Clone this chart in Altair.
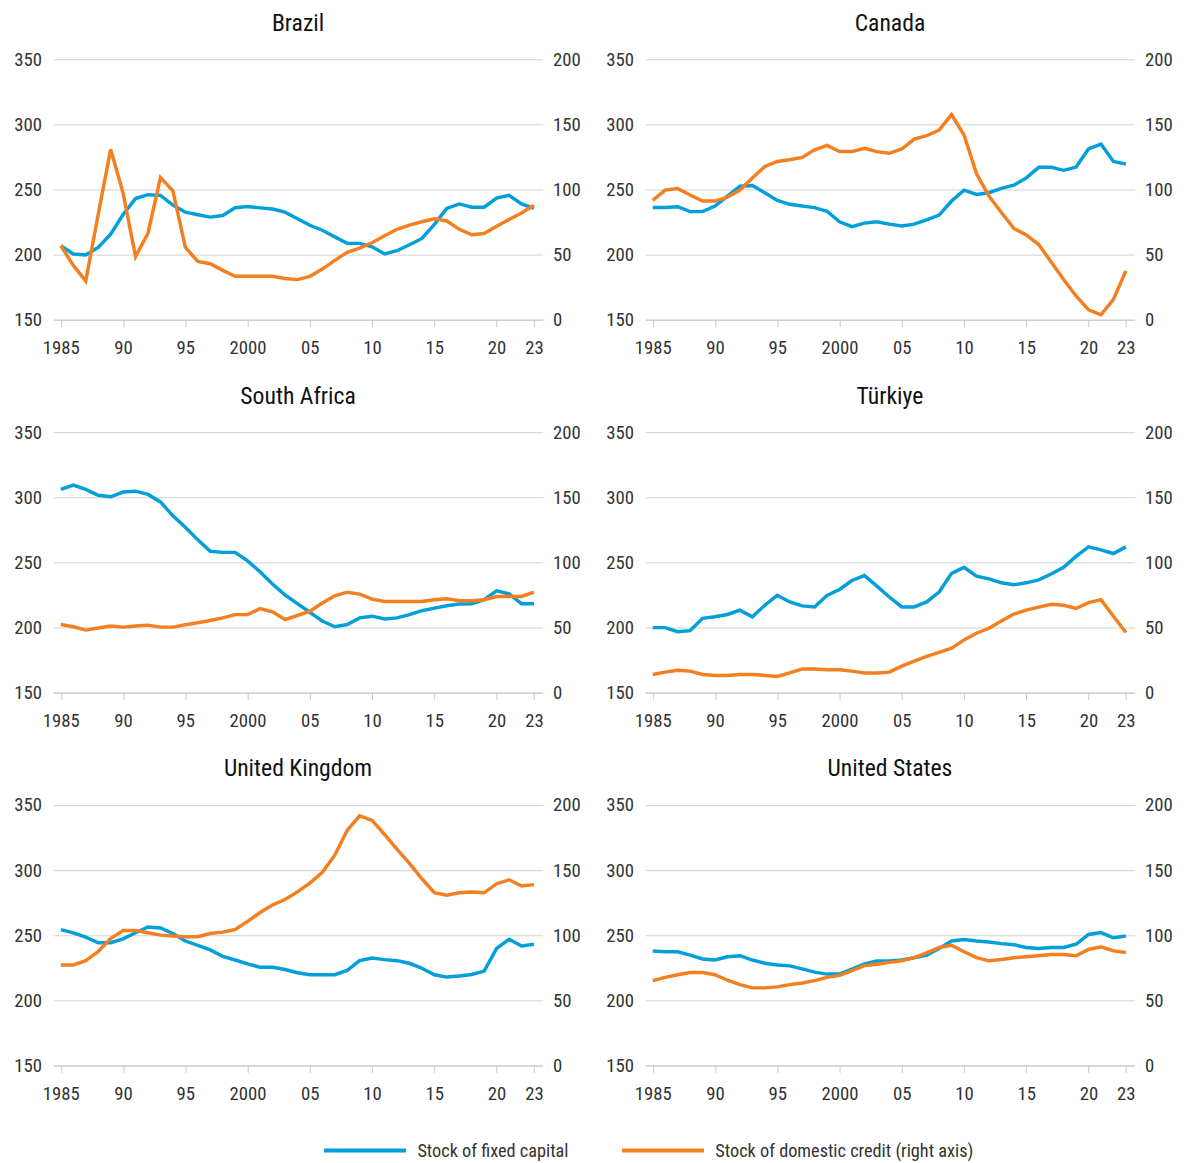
import altair as alt
import pandas as pd

years = list(range(1985, 2024))

LAB_CAP = "Stock of fixed capital"
LAB_CRED = "Stock of domestic credit (right axis)"

countries = ["Brazil", "Canada", "South Africa", "Türkiye", "United Kingdom", "United States"]

# Stock of fixed capital (left axis)
brazil_capital = [206.8, 200.5, 199.7, 205.5, 215.7, 230.8, 243.0, 246.0, 245.5, 238.0,
                  232.6, 230.6, 228.8, 230.0, 236.0, 236.9, 235.9, 235.0, 232.6, 227.5,
                  222.5, 218.7, 213.6, 208.6, 208.6, 206.0, 200.5, 203.0, 207.6, 212.4,
                  223.2, 235.4, 238.9, 236.4, 236.4, 243.4, 245.5, 238.9, 235.4]
canada_capital = [236.1, 236.1, 236.8, 233.0, 233.0, 237.3, 244.9, 252.5, 253.0, 247.5,
                  241.6, 238.6, 237.3, 236.1, 233.3, 225.2, 221.4, 224.2, 225.2, 223.4,
                  221.9, 223.4, 226.7, 230.3, 241.1, 249.5, 246.2, 247.5, 250.8, 253.3,
                  258.9, 267.0, 267.0, 264.7, 267.2, 281.1, 284.9, 271.5, 269.5]
south_africa_capital = [306.0, 309.3, 306.0, 301.5, 300.4, 304.0, 304.7, 302.2, 296.4, 285.8,
                        276.9, 267.3, 258.5, 257.7, 257.7, 251.1, 242.8, 233.4, 225.1, 218.3,
                        211.7, 204.9, 200.6, 202.3, 207.4, 208.7, 206.6, 207.4, 209.9, 212.9,
                        214.9, 216.7, 218.0, 218.3, 221.3, 228.1, 225.9, 218.3, 218.3]
turkiye_capital = [199.9, 199.9, 196.8, 197.6, 207.0, 208.2, 210.0, 213.3, 208.2, 217.1,
                   224.7, 219.6, 216.6, 215.8, 224.7, 229.2, 236.1, 239.9, 231.8, 223.4,
                   215.8, 215.8, 219.6, 227.2, 241.6, 246.2, 239.4, 237.3, 234.3, 232.8,
                   234.3, 236.6, 241.1, 246.2, 254.6, 261.9, 259.6, 256.8, 261.9]
uk_capital = [254.4, 251.9, 248.6, 244.3, 244.3, 247.3, 251.9, 256.4, 255.6, 251.4,
              245.6, 242.3, 238.8, 233.8, 231.0, 228.0, 225.5, 225.5, 223.7, 221.2,
              219.7, 219.7, 219.7, 223.0, 230.5, 232.5, 231.3, 230.5, 228.5, 224.7,
              219.7, 217.9, 218.7, 219.9, 222.5, 240.0, 246.9, 241.8, 243.1]
us_capital = [238.0, 237.3, 237.3, 234.8, 231.8, 231.0, 233.5, 234.3, 231.0, 228.5,
              227.2, 226.5, 224.2, 221.7, 220.2, 220.2, 224.0, 228.0, 230.3, 230.3,
              231.0, 232.8, 234.8, 239.8, 245.6, 246.8, 245.6, 244.8, 243.6, 242.8,
              240.6, 239.8, 240.6, 240.6, 243.1, 250.6, 252.1, 248.1, 249.4]

# Stock of domestic credit (right axis)
brazil_credit = [56.8, 41.7, 29.8, 80.8, 130.8, 97.2, 48.5, 66.4, 109.1, 99.0,
                 55.6, 44.7, 43.0, 37.9, 33.3, 33.3, 33.3, 33.3, 31.6, 30.8,
                 33.3, 38.9, 45.5, 51.8, 55.0, 59.1, 64.4, 69.4, 72.7, 75.2,
                 77.5, 75.8, 69.4, 65.2, 66.2, 71.7, 77.0, 82.0, 87.9]
canada_credit = [91.6, 99.5, 100.8, 95.7, 91.1, 91.1, 94.2, 99.5, 108.9, 117.7,
                 121.5, 122.8, 124.6, 130.4, 133.9, 129.1, 129.1, 131.6, 129.1, 127.8,
                 131.1, 138.7, 141.3, 145.6, 157.5, 141.8, 112.2, 94.9, 82.3, 70.1,
                 65.1, 57.7, 44.3, 30.9, 18.2, 7.6, 3.8, 15.7, 37.5]
south_africa_credit = [52.3, 50.6, 48.0, 49.6, 51.1, 50.3, 51.1, 51.8, 50.3, 50.3,
                       52.1, 53.6, 55.4, 57.4, 59.9, 59.9, 64.5, 62.0, 56.1, 59.2,
                       62.5, 68.8, 74.3, 77.1, 75.6, 71.8, 70.0, 70.0, 70.0, 70.0,
                       71.3, 72.0, 70.5, 70.5, 71.3, 73.8, 73.8, 73.8, 77.1]
turkiye_credit = [13.9, 15.7, 17.2, 16.5, 13.9, 13.2, 13.2, 13.9, 13.9, 13.2,
                  12.4, 15.2, 18.2, 18.2, 17.5, 17.5, 16.5, 15.0, 15.0, 15.7,
                  20.3, 24.1, 27.8, 30.9, 34.2, 40.5, 45.6, 49.4, 54.9, 60.3,
                  63.3, 65.6, 67.8, 67.1, 64.6, 69.1, 71.4, 58.7, 46.1]
uk_credit = [77.2, 77.2, 80.5, 87.5, 97.4, 103.6, 103.6, 101.9, 100.1, 99.4,
             98.9, 98.9, 101.4, 102.4, 104.4, 110.7, 117.5, 123.3, 127.5, 133.3,
             140.1, 148.4, 161.5, 180.6, 191.7, 188.2, 177.4, 166.0, 155.2, 143.4,
             132.8, 130.8, 132.6, 133.3, 132.6, 139.6, 142.6, 137.9, 138.9]
us_credit = [65.2, 67.7, 69.7, 71.4, 71.4, 69.7, 65.5, 62.1, 59.6, 59.6,
             60.4, 62.1, 63.4, 65.2, 67.7, 69.2, 72.9, 76.7, 77.7, 79.2,
             80.4, 82.8, 86.5, 90.6, 92.3, 87.3, 82.8, 80.4, 81.4, 82.8,
             83.5, 84.3, 85.3, 85.3, 84.3, 89.1, 91.1, 88.0, 86.8]

capital = [brazil_capital, canada_capital, south_africa_capital, turkiye_capital, uk_capital, us_capital]
credit = [brazil_credit, canada_credit, south_africa_credit, turkiye_credit, uk_credit, us_credit]

x_tick_values = [1985, 1990, 1995, 2000, 2005, 2010, 2015, 2020, 2023]
left_ticks = [150, 200, 250, 300, 350]
right_ticks = [0, 50, 100, 150, 200]

rows = []
for c, cap, cr in zip(countries, capital, credit):
    for y, v in zip(years, cap):
        rows.append({"country": c, "year": y, "series": LAB_CAP, "value": v})
    for y, v in zip(years, cr):
        rows.append({"country": c, "year": y, "series": LAB_CRED, "value": v})
df = pd.DataFrame(rows)

BLUE = "#009FDA"
ORANGE = "#F47F20"
FONT = "Roboto Condensed, Liberation Sans Narrow, Arial Narrow, DejaVu Sans Condensed, Roboto, sans-serif"

color = alt.Color(
    "series:N",
    scale=alt.Scale(domain=[LAB_CAP, LAB_CRED], range=[BLUE, ORANGE]),
    legend=alt.Legend(
        title=None, orient="none", direction="horizontal",
        legendX=272, legendY=1062,
        symbolType="stroke", symbolStrokeWidth=4, symbolSize=6900,
        labelFontSize=18.5, labelFont=FONT, labelColor="#333333",
        labelOffset=9, columnPadding=45, labelLimit=400,
    ),
)

x_enc = alt.X(
    "year:Q",
    scale=alt.Scale(domain=[1984.4, 2023.7], nice=False, zero=False),
    axis=alt.Axis(
        values=x_tick_values, title=None, grid=False, format="d",
        labelExpr="(datum.value == 1985 || datum.value == 2000) ? datum.label : substring(datum.label, 2)",
        domain=True, domainColor="#c8c8c8", ticks=True, tickColor="#c8c8c8", tickSize=7,
        labelPadding=12, labelFlush=False,
    ),
)


def panel(country):
    base = alt.Chart(df).transform_filter(alt.datum.country == country)
    left = base.transform_filter(alt.datum.series == LAB_CAP).mark_line(strokeWidth=3.5).encode(
        x=x_enc,
        y=alt.Y("value:Q", scale=alt.Scale(domain=[150, 350], nice=False, zero=False),
                axis=alt.Axis(values=left_ticks, title=None, orient="left", grid=True,
                              gridColor="#d0d0d0", domain=False, ticks=False, labelPadding=12)),
        color=color,
    )
    right = base.transform_filter(alt.datum.series == LAB_CRED).mark_line(strokeWidth=3.5).encode(
        x=x_enc,
        y=alt.Y("value:Q", scale=alt.Scale(domain=[0, 200], nice=False, zero=False),
                axis=alt.Axis(values=right_ticks, title=None, orient="right", grid=False,
                              domain=False, ticks=False, labelPadding=10)),
        color=color,
    )
    return alt.layer(
        left, right,
        title=alt.TitleParams(country, fontSize=24, font=FONT, fontWeight="normal", color="#111111",
                              anchor="middle", offset=15),
    ).resolve_scale(y="independent").properties(width=496, height=264)


chart = alt.concat(
    *[panel(c) for c in countries], columns=2, spacing={"row": 28, "column": 24}
).resolve_scale(color="shared").resolve_legend(color="shared").properties(
    padding={"top": -4, "left": 5, "right": 5, "bottom": 5}
).configure(
    font=FONT
).configure_axis(
    labelFontSize=19, labelFont=FONT, labelColor="#333333"
).configure_view(stroke=None)

chart.save("out.html", embed_options={"renderer": "svg", "actions": False})
